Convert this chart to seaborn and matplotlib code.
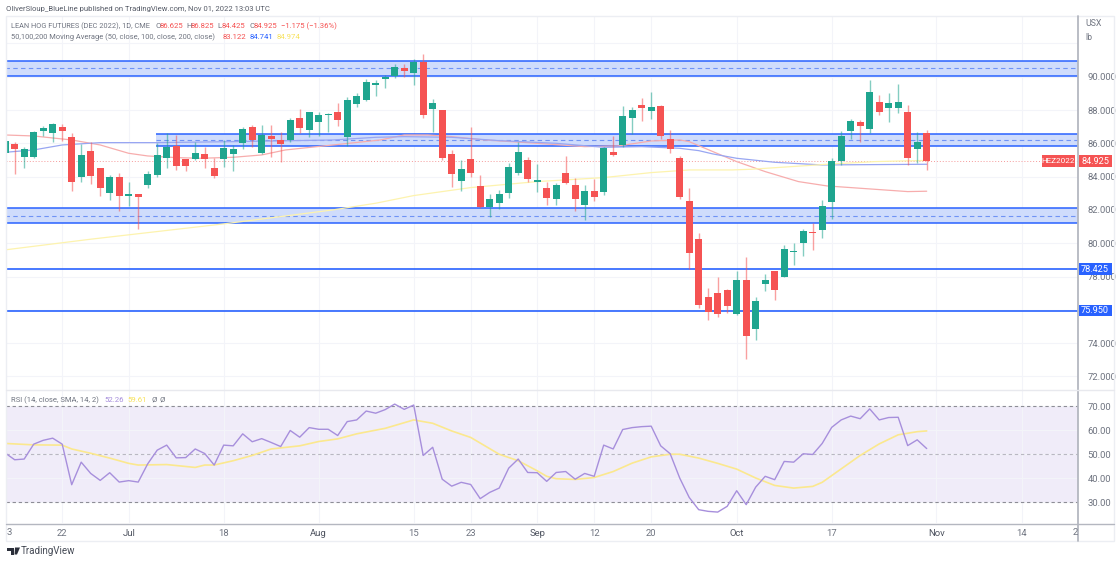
import matplotlib
matplotlib.use('Agg')
import matplotlib.pyplot as plt
from matplotlib.patches import Rectangle, Polygon
import numpy as np
import pandas as pd
import seaborn as sns

# candles, Jun 13 to Oct 31 2022
opens = [85.44, 85.98, 85.2, 85.2, 86.74, 86.64, 87.0, 86.4, 83.98, 85.54, 84.5, 83.0, 83.96, 82.86, 82.98, 83.5,
         84.12, 85.12, 85.86, 85.06, 85.04, 85.34, 84.5, 85.04, 85.36, 86.0, 86.96, 85.44, 86.44, 86.22, 86.2, 87.5,
         86.8, 87.26, 87.7, 87.86, 86.4, 88.36, 88.6, 89.5,
         89.84, 90.04, 90.54, 90.22, 90.9, 88.08, 87.98, 85.38, 83.76, 85.04, 83.44, 82.16, 82.44, 83.0, 84.2, 85.0,
         83.68, 83.32, 82.64, 84.2, 83.52, 82.3, 83.12, 83.08, 85.48, 85.9, 87.52, 88.32, 87.96, 88.24, 86.24, 85.12,
         82.56, 80.24, 76.78, 77.0, 77.16, 75.74, 77.76, 74.84, 77.52, 78.36, 78.0, 79.48, 80.0, 80.7, 80.8, 82.48,
         84.96, 86.74, 87.28, 86.88, 88.5, 88.12, 88.1, 87.86, 85.66, 86.625]
highs = [86.3, 86.1, 85.8, 86.74, 87.04, 87.2, 87.16, 86.6, 85.96, 86.1, 84.5, 84.1, 84.24, 83.7, 82.98, 84.34,
         86.04, 86.6, 86.5, 85.06, 86.1, 85.8, 85.12, 86.2, 85.9, 87.0, 87.08, 87.1, 87.1, 86.68, 87.52, 88.06,
         87.9, 87.9, 87.84, 88.4, 88.8, 89.04, 89.84, 89.8,
         90.1, 90.74, 90.74, 91.04, 91.34, 88.64, 87.98, 85.6, 85.0, 87.0, 84.1, 82.96, 83.2, 84.84, 86.1, 85.2,
         84.76, 83.7, 83.64, 85.24, 83.9, 83.52, 83.84, 85.76, 86.44, 88.24, 88.2, 88.74, 89.08, 88.28, 86.8, 85.24,
         83.3, 80.6, 77.28, 77.96, 77.24, 78.36, 79.2, 76.76, 78.14, 78.36, 79.9, 80.0, 80.86, 81.2, 82.6, 85.1,
         86.74, 87.48, 87.4, 89.8, 88.9, 89.04, 89.56, 88.3, 86.68, 86.825]
lows = [85.0, 84.14, 84.54, 85.1, 86.44, 86.1, 86.16, 83.16, 83.7, 83.54, 82.84, 82.6, 81.96, 82.24, 80.84, 83.3,
        83.96, 84.5, 84.4, 84.34, 85.0, 84.5, 83.9, 84.6, 84.36, 85.66, 85.8, 85.36, 85.2, 84.86, 86.1, 86.6,
        86.36, 86.44, 86.7, 87.04, 85.84, 88.16, 88.54, 88.84,
        89.34, 89.94, 90.0, 89.5, 87.5, 86.7, 85.0, 83.4, 83.16, 84.0, 82.1, 81.56, 82.04, 82.7, 84.1, 83.68,
        83.08, 82.3, 82.3, 83.56, 81.96, 81.4, 82.56, 82.9, 85.26, 85.8, 86.54, 87.36, 87.44, 86.24, 85.4, 82.64,
        78.44, 76.1, 75.36, 75.56, 75.8, 75.7, 73.04, 74.16, 77.1, 76.6, 77.96, 78.72, 79.26, 79.6, 80.3, 81.44,
        84.7, 86.26, 86.1, 86.64, 87.7, 87.3, 87.84, 84.72, 84.8, 84.425]
closes = [86.16, 85.64, 85.68, 86.68, 86.92, 87.14, 86.76, 83.68, 85.32, 84.04, 83.34, 83.96, 82.84, 82.98, 82.76, 84.14,
          85.28, 85.76, 84.66, 84.66, 85.4, 85.04, 84.06, 85.72, 85.68, 86.86, 86.2, 86.5, 86.26, 85.98, 87.38, 86.92,
          87.88, 87.72, 87.76, 87.4, 88.62, 88.82, 89.7, 89.62,
          89.98, 90.6, 90.36, 90.86, 87.7, 88.44, 85.14, 84.14, 84.48, 84.2, 82.18, 82.64, 82.94, 84.6, 85.5, 83.88,
          83.78, 82.7, 83.52, 83.6, 82.66, 83.14, 82.78, 85.7, 85.3, 87.64, 87.98, 88.12, 88.16, 86.44, 85.66, 82.78,
          79.4, 76.26, 75.84, 75.76, 76.24, 77.76, 74.44, 76.5, 77.8, 77.16, 79.64, 79.56, 80.72, 80.6, 82.26, 84.96,
          86.46, 87.36, 87.04, 89.1, 87.9, 88.4, 88.5, 85.12, 86.1, 84.925]

ma50_x = [0, 3, 7, 10, 13, 15, 18, 20.5, 24, 27, 29.5, 34.5, 39.5, 42, 44.5, 47, 50.5, 56, 61, 64.5, 68, 71, 72, 74.5,
          77, 80, 83.5, 86.5, 90, 95, 97]
ma50_y = [86.5, 86.44, 86.2, 85.9, 85.4, 85.24, 85.14, 85.1, 85.16, 85.3, 85.6, 85.9, 86.2, 86.5, 86.5, 86.4, 86.2,
          86.0, 85.8, 85.84, 86.14, 86.2, 86.1, 85.5, 84.9, 84.3, 83.7, 83.44, 83.3, 83.1, 83.122]
ma100_x = [0, 3, 6, 10, 16, 24, 34.5, 39, 42, 47, 52, 58, 63, 67, 71, 73, 74.5, 77, 81, 86, 97]
ma100_y = [85.46, 85.6, 85.9, 86.04, 86.04, 86.1, 86.2, 86.36, 86.4, 86.36, 86.16, 86.0, 85.76, 85.8, 85.7, 85.56,
           85.36, 85.1, 84.86, 84.7, 84.741]
ma200_x = [0, 9, 23, 34.5, 39, 43, 49, 56, 63, 68, 72, 76.5, 78.5, 86.5, 91.5, 97]
ma200_y = [79.6, 80.24, 81.16, 82.0, 82.4, 82.86, 83.34, 83.7, 83.94, 84.24, 84.4, 84.4, 84.44, 84.74, 84.9, 84.974]

rsi = [50.4, 47.6, 47.9, 54.1, 55.7, 56.6, 54.1, 37.2, 46.6, 41.9, 39.0, 42.2, 38.3, 38.9, 38.3, 45.9, 51.6, 53.7,
       48.4, 48.5, 52.1, 50.2, 45.4, 53.7, 53.4, 58.4, 55.1, 56.4, 54.8, 53.1, 59.8, 57.0, 61.0, 60.3, 60.3, 57.7,
       63.5, 64.2, 67.9, 67.0, 68.5, 70.8, 68.6, 70.4, 49.4, 52.8, 39.5, 36.6, 38.2, 37.3, 31.4, 34.0, 35.8, 44.1,
       47.9, 42.3, 42.2, 38.6, 42.3, 42.7, 39.5, 41.9, 40.7, 53.7, 52.1, 60.2, 61.0, 61.4, 61.6, 53.4, 50.1, 40.0,
       31.9, 26.8, 26.1, 25.8, 28.2, 34.7, 28.9, 36.2, 40.7, 39.3, 46.9, 46.6, 50.1, 49.8, 54.4, 61.1, 64.2, 65.8,
       64.7, 68.8, 64.2, 65.2, 65.3, 53.5, 55.9, 52.26]
rsi_ma_x = [0, 3, 6, 7, 9, 11, 13, 14, 17, 20, 21, 22, 24, 26, 28, 31, 33, 35, 37, 40, 43, 45, 47, 49, 52, 54, 56, 57,
            58, 60, 62, 64, 66, 68, 70, 71, 73, 75, 77, 79, 81, 83, 85, 86, 88, 90, 92, 94, 96, 97]
rsi_ma_y = [54.4, 53.8, 53.7, 52.1, 50.3, 48.3, 46.1, 45.4, 45.6, 44.4, 45.4, 45.4, 47.2, 49.4, 52.1, 53.4, 55.2, 56.3,
            58.4, 60.7, 64.2, 62.8, 59.6, 56.9, 49.9, 47.2, 43.0, 40.7, 39.7, 39.4, 40.2, 42.7, 46.2, 48.8, 49.9, 49.9,
            48.3, 46.1, 43.7, 40.0, 36.9, 35.8, 36.5, 38.2, 43.8, 49.4, 54.2, 58.0, 59.3, 59.61]

tick_pos = [6, 13, 23, 33, 43, 49, 56, 62, 68, 77, 87, 98, 107]
tick_txt = ['22', 'Jul', '18', 'Aug', '15', '23', 'Sep', '12', '20', 'Oct', '17', 'Nov', '14']
price_ticks = [72, 74, 76, 78, 80, 82, 84, 86, 88, 90, 92]
price_txt = ['72.000', '74.000', '', '78.000', '80.000', '82.000', '84.000', '86.000', '88.000', '90.000', '']
rsi_ticks = [30, 40, 50, 60, 70]

# top, bottom, mid, first bar
band_top = [90.95, 86.55, 82.1]
band_low = [90.05, 85.84, 81.2]
band_mid = [90.5, 86.2, 81.65]
band_from = [0, 15.9, 0]
level_lines = [78.425, 75.95]
last_close = 84.925

W, H = 1120, 563
UP, DOWN = '#1fa58f', '#f55353'
BLUE = '#2962ff'
GREY = '#6f7480'
PINK, MABLUE, YELLOW = '#f7adad', '#98a6f2', '#fdf3ae'
PURPLE, RSIYEL = '#a78fdc', '#fbe88e'

df = pd.DataFrame({'o': opens, 'h': highs, 'l': lows, 'c': closes})
df['i'] = np.arange(len(df))
df['top'] = df[['o', 'c']].max(axis=1)
df['bot'] = df[['o', 'c']].min(axis=1)
df['col'] = np.where(df['c'] >= df['o'], UP, DOWN)

sns.set_theme(style='white')
plt.rcParams['font.family'] = ['Roboto', 'DejaVu Sans']

fig = plt.figure(figsize=(W / 100, H / 100), dpi=100)
fig.patch.set_facecolor('white')


def px_axes(x0, y0, x1, y1):
    return fig.add_axes([x0 / W, 1 - y1 / H, (x1 - x0) / W, (y1 - y0) / H])


def label(x, y, s, color=GREY, size=5.6, **kw):
    return fig.text(x / W, 1 - y / H, s, color=color, fontsize=size, va='center', **kw)


# i = 0 sits at x=5.2px, 9.5px a bar
xlim = ((6 - 5.2) / 9.5, (1078 - 5.2) / 9.5)

ax = px_axes(6, 16, 1078, 390)
ax2 = px_axes(6, 390, 1078, 523)

for a in (ax, ax2):
    a.set_xlim(xlim)
    a.set_xticks(tick_pos)
    a.grid(True, color='#f3f4f9', lw=0.8)
    a.set_axisbelow(True)
    for s in a.spines.values():
        s.set_visible(False)

# price pane
ax.set_ylim(90 - (390 - 76.7) / 16.65, 90 + (76.7 - 16) / 16.65)
ax.set_yticks(price_ticks)
ax.set_yticklabels(price_txt)
ax.yaxis.tick_right()
ax.tick_params(axis='y', length=0, pad=7, labelsize=6.8, labelcolor=GREY)
ax.tick_params(axis='x', length=0, labelbottom=False)

for top, low, mid, start in zip(band_top, band_low, band_mid, band_from):
    ax.fill_between([start, xlim[1]], low, top, color='#cfdcfc', lw=0, zorder=1)
    ax.hlines([top, low], start, xlim[1], color=BLUE, lw=1.1, zorder=1.5)
    ax.hlines(mid, start, xlim[1], color='#6f93f5', lw=0.8, linestyles=(0, (4, 3)), zorder=1.5)
ax.hlines(level_lines, xlim[0], xlim[1], color=BLUE, lw=1.2, zorder=1.5)
ax.axhline(last_close, color='#f59a9a', lw=0.7, ls=(0, (1, 2)), zorder=1.5)

sns.lineplot(x=ma50_x, y=ma50_y, ax=ax, color=PINK, lw=0.9, zorder=2, errorbar=None)
sns.lineplot(x=ma100_x, y=ma100_y, ax=ax, color=MABLUE, lw=0.9, zorder=2, errorbar=None)
sns.lineplot(x=ma200_x, y=ma200_y, ax=ax, color=YELLOW, lw=0.9, zorder=2, errorbar=None)

ax.vlines(df['i'], df['l'], df['h'], colors=df['col'], lw=1, alpha=0.55, zorder=3)
ax.bar(df['i'], df['top'] - df['bot'], bottom=df['bot'], width=0.7, color=df['col'], lw=0, zorder=4)
ax.set_xlim(xlim)
ax.set_xlabel('')
ax.set_ylabel('')

# rsi pane
ax2.set_ylim(70 - (523 - 406) / 2.4, 70 + (406 - 390) / 2.4)
ax2.set_yticks(rsi_ticks)
ax2.set_yticklabels(['%.2f' % t for t in rsi_ticks])
ax2.yaxis.tick_right()
ax2.tick_params(axis='y', length=0, pad=7, labelsize=6.8, labelcolor=GREY)
ax2.set_xticklabels(tick_txt)
ax2.tick_params(axis='x', length=0, pad=4, labelsize=6.8, labelcolor=GREY)
ax2.axhspan(30, 70, color='#f0ecf9', lw=0, zorder=0.5)
for v, c in zip([70, 50, 30], ['#8d8d96', '#b9b7c2', '#8d8d96']):
    ax2.axhline(v, color=c, lw=0.8, ls=(0, (3, 2.5)), zorder=1)
sns.lineplot(x=rsi_ma_x, y=rsi_ma_y, ax=ax2, color=RSIYEL, lw=1.2, zorder=2, errorbar=None)
sns.lineplot(x=df['i'], y=rsi, ax=ax2, color=PURPLE, lw=1, zorder=3, errorbar=None)
ax2.set_xlim(xlim)
ax2.set_xlabel('')
ax2.set_ylabel('')
for t in ax2.get_xticklabels():
    if t.get_text().isalpha():
        t.set_color('#4f5460')

# frame
fig.add_artist(Rectangle((6 / W, 1 - 541 / H), 1108 / W, 525 / H, fill=False, ec='#eceef3', lw=1))
fig.add_artist(plt.Line2D([1078 / W, 1078 / W], [1 - 16 / H, 1 - 541 / H], color='#b4b7c0', lw=1.3))
fig.add_artist(plt.Line2D([6 / W, 1114 / W], [1 - 523.5 / H, 1 - 523.5 / H], color='#b4b7c0', lw=1))
fig.add_artist(plt.Line2D([6 / W, 1114 / W], [1 - 390 / H, 1 - 390 / H], color='#e8e9ee', lw=1))

# header
label(6, 9, 'OliverSloup_BlueLine published on TradingView.com, Nov 01, 2022 13:03 UTC', color='#555a66', size=5.5)
label(11, 26, 'LEAN HOG FUTURES (DEC 2022), 1D, CME', size=5.3)
for x, s in zip([155, 186, 217, 249], ['O', 'H', 'L', 'C']):
    label(x, 26, s)
for x, s in zip([160, 191, 222, 254, 281], ['86.625', '86.825', '84.425', '84.925', '\u22121.175 (\u22121.36%)']):
    label(x, 26, s, color=DOWN)
label(11, 37, '50,100,200 Moving Average (50, close, 100, close, 200, close)', size=5.4)
label(223, 37, '83.122', color=DOWN)
label(250, 37, '84.741', color=BLUE)
label(277, 37, '84.974', color='#f7e25c')
label(11, 400, 'RSI (14, close, SMA, 14, 2)', size=5.5)
label(104, 400, '52.26', color=PURPLE)
label(127, 400, '59.61', color='#f7e25c')
label(151, 400, '\u00d8')
label(160, 400, '\u00d8')
label(1085, 24, 'USX', size=6.3)
label(1085, 38, 'lb', size=6.3)
label(7, 532.5, '3', size=6.8)
label(1078, 532.5, '2', size=6.8, ha='right')

# price tags
for xc, yc, s, col, sz in [(1058.5, 161, 'HEZ2022', DOWN, 5.9), (1095, 161, '84.925', DOWN, 6.6),
                           (1095, 269, '78.425', BLUE, 6.6), (1095, 310.5, '75.950', BLUE, 6.6)]:
    fig.add_artist(Rectangle(((xc - 16.5) / W, 1 - (yc + 5.5) / H), 33 / W, 11 / H, fc=col, ec='none', zorder=5))
    label(xc, yc, s, color='white', size=sz, ha='center', zorder=6)

# TradingView mark
fig.add_artist(Polygon([(7 / W, 1 - 547.5 / H), (14 / W, 1 - 547.5 / H), (14 / W, 1 - 554.5 / H),
                        (11 / W, 1 - 554.5 / H), (11 / W, 1 - 550.5 / H), (7 / W, 1 - 550.5 / H)],
                       fc='#2b2f3a', ec='none'))
fig.add_artist(Polygon([(15 / W, 1 - 547.5 / H), (20 / W, 1 - 547.5 / H), (17 / W, 1 - 554.5 / H),
                        (14.5 / W, 1 - 554.5 / H)], fc='#2b2f3a', ec='none'))
label(21, 551, 'TradingView', color='#454a55', size=7.0)

fig.savefig('out.png', dpi=100)
